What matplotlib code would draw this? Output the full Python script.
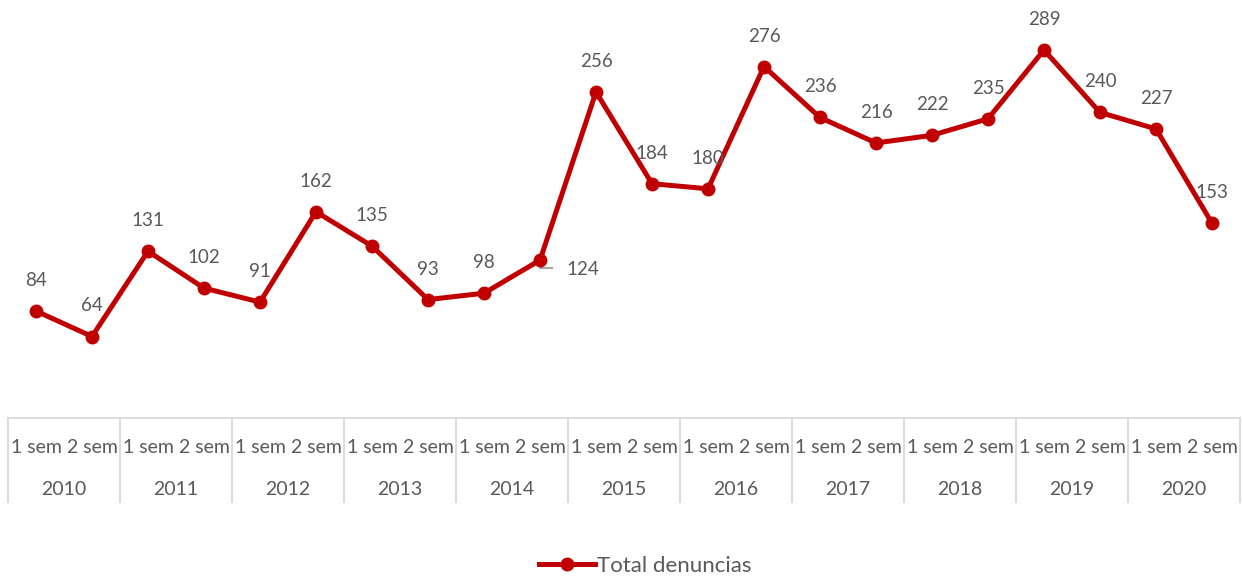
import numpy as np
import matplotlib
matplotlib.use("Agg")
import matplotlib.pyplot as plt
import matplotlib.transforms as mtransforms
from matplotlib.lines import Line2D

# data
years = ["2010", "2011", "2012", "2013", "2014", "2015", "2016", "2017", "2018", "2019", "2020"]
semesters = ["1 sem", "2 sem"]
denuncias = [84, 64, 131, 102, 91, 162, 135, 93, 98, 124, 256, 184,
             180, 276, 236, 216, 222, 235, 289, 240, 227, 153]

red = "#C00000"
gray_txt = "#595959"
grid_col = "#D9D9D9"
plt.rcParams['font.family'] = ['Lato', 'DejaVu Sans']

fig = plt.figure(figsize=(12.43, 5.76), dpi=100)
W, H = 1243, 576
ax = fig.add_axes([8 / W, (H - 418) / H, 1232 / W, 382 / H])

x = np.arange(len(denuncias))
ax.plot(x, denuncias, color=red, lw=3.6, marker="o", ms=9, zorder=3, clip_on=False)

ax.set_xlim(-0.5, len(denuncias) - 0.5)
ax.set_ylim(0, 300)
for s in ["top", "right", "left"]:
    ax.spines[s].set_visible(False)
ax.spines["bottom"].set_color(grid_col)
ax.spines["bottom"].set_linewidth(1.3)
ax.set_xticks([])
ax.set_yticks([])

# data labels
for i, v in enumerate(denuncias):
    if v == 124:
        ax.annotate(str(v), (i, v), xytext=(19, -7), textcoords="offset points",
                    ha="left", va="center", fontsize=13.5, color=gray_txt)
        px, py = ax.transData.transform((i, v))
        ax.add_line(Line2D([px, px, px + 12], [py - 2, py - 8, py - 8],
                           transform=None, color="#A6A6A6", lw=1.5, zorder=2))
    else:
        ax.annotate(str(v), (i, v), xytext=(0, 22), textcoords="offset points",
                    ha="center", va="center", fontsize=13.5, color=gray_txt)

# two level category axis
trans = mtransforms.blended_transform_factory(ax.transData, ax.transAxes)
for k in range(len(years) + 1):
    xb = 2 * k - 0.5
    ax.plot([xb, xb], [0, -0.22], transform=trans, color=grid_col, lw=1.3, clip_on=False)
for k, yr in enumerate(years):
    for j, s in enumerate(semesters):
        ax.text(2 * k + j, -0.076, s, transform=trans, ha="center", va="center",
                fontsize=14, color=gray_txt)
    ax.text(2 * k + 0.5, -0.186, yr, transform=trans, ha="center", va="center",
            fontsize=14, color=gray_txt)

handle = Line2D([], [], color=red, lw=3.6, marker="o", ms=9)
fig.legend([handle], ["Total denuncias"], loc="center", bbox_to_anchor=(0.519, 1 - 566 / H),
           frameon=False, fontsize=16, labelcolor=gray_txt, handlelength=2.5, handletextpad=0.1)

fig.savefig("out.png", dpi=100)
